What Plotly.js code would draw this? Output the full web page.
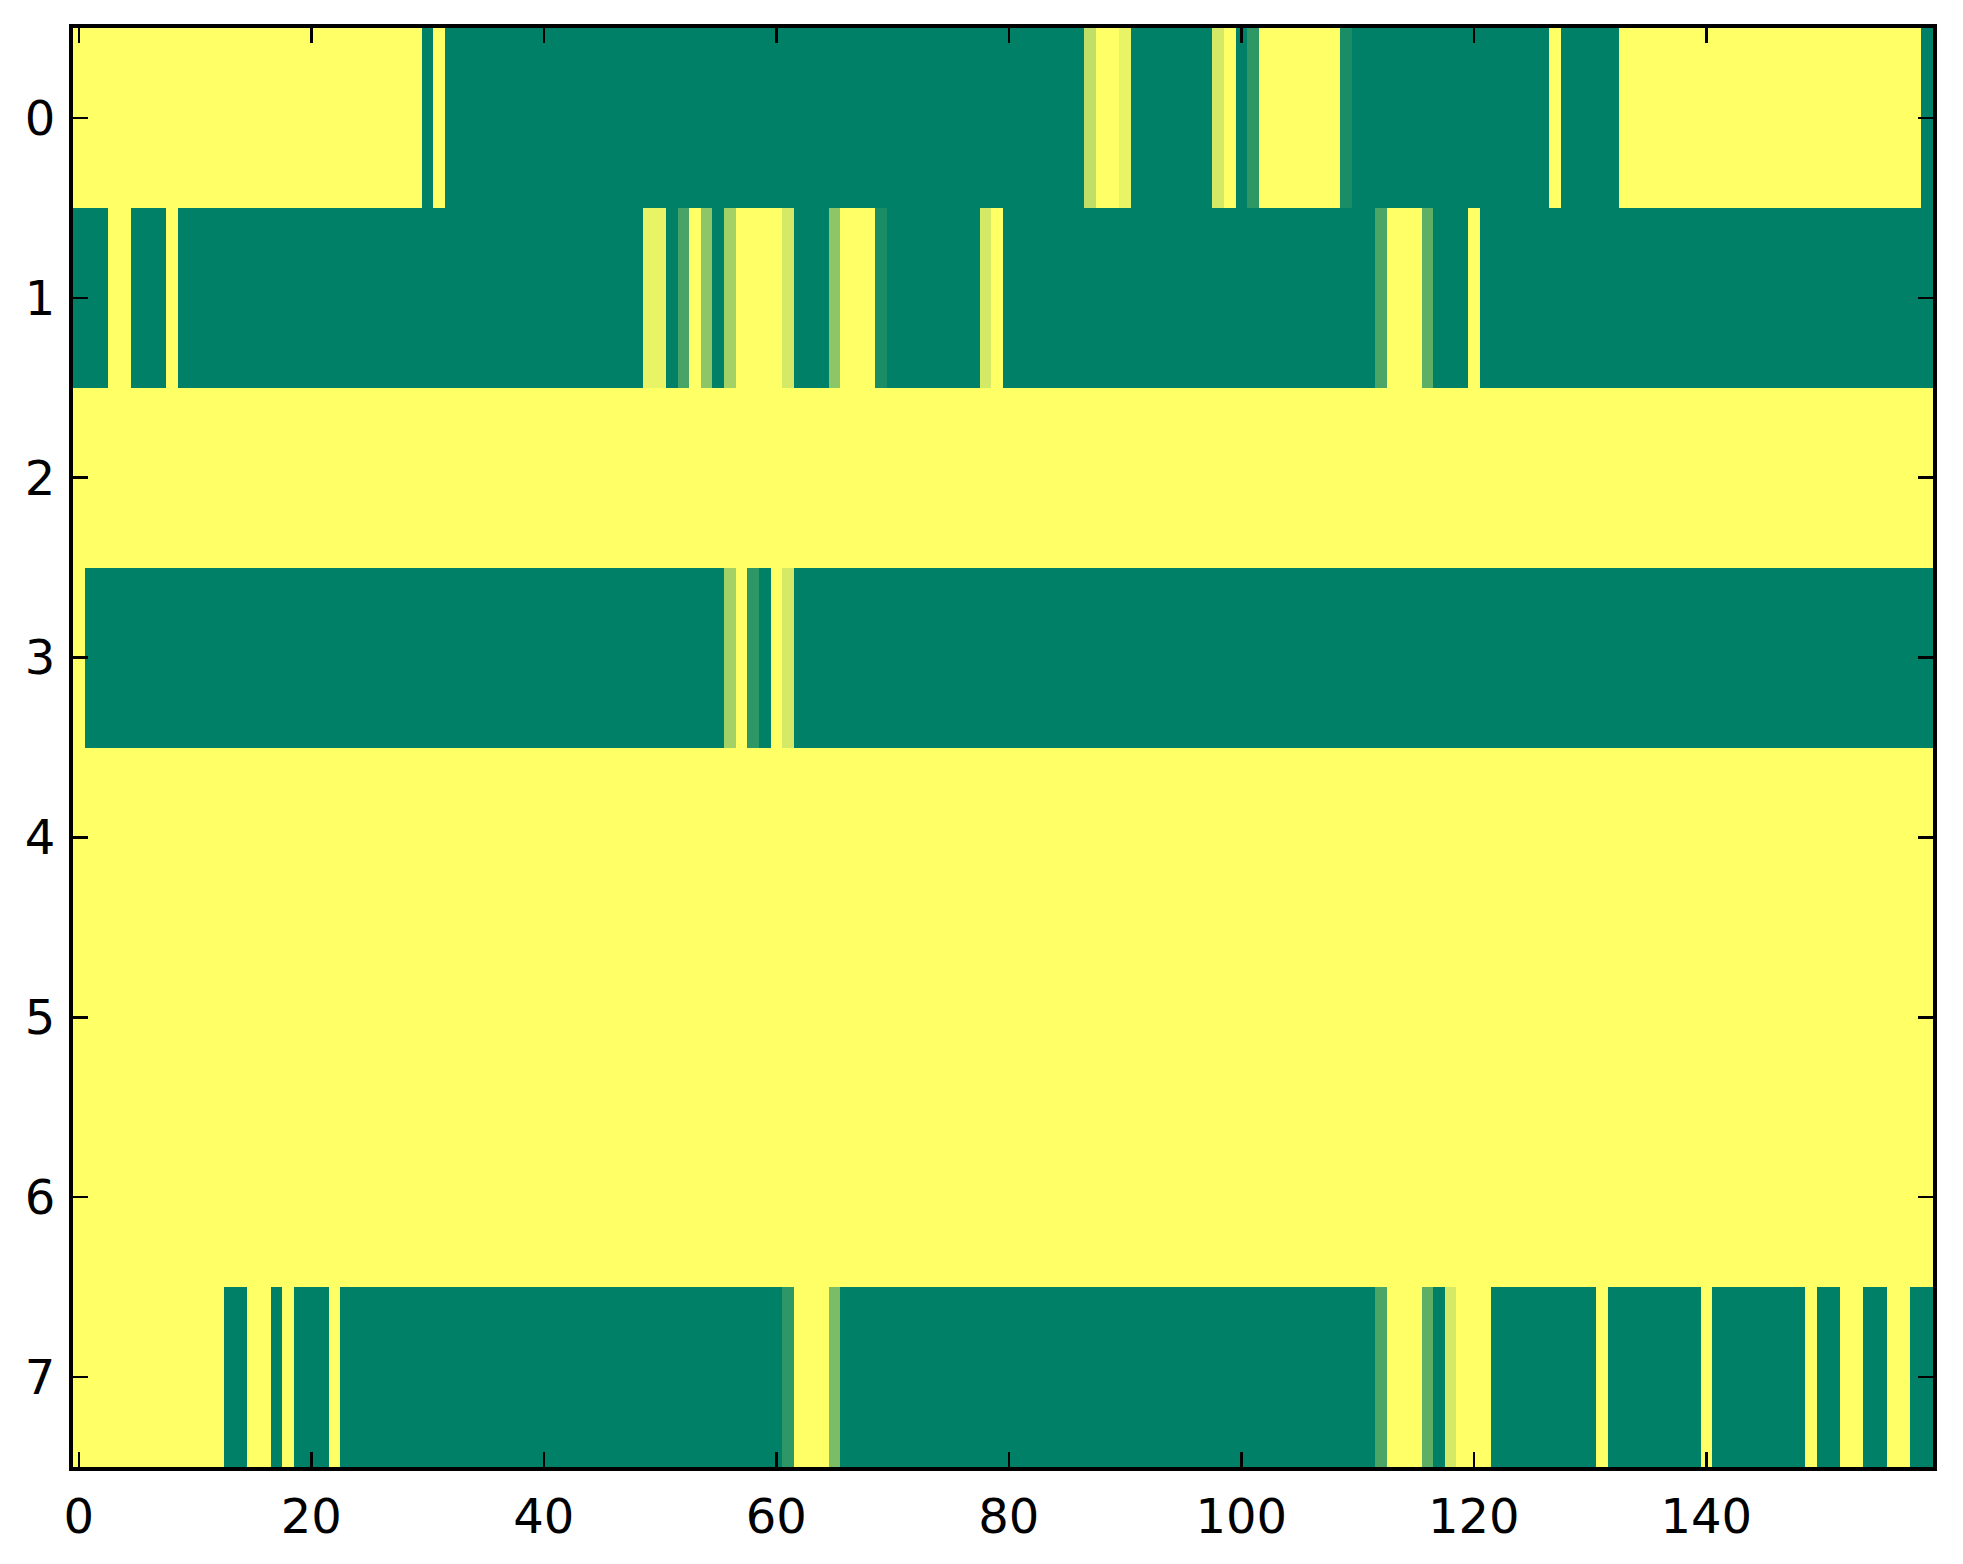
<!DOCTYPE html>
<html>
<head>
<meta charset="utf-8">
<script src="https://cdn.plot.ly/plotly-3.0.1.min.js"></script>
<style>html,body{margin:0;padding:0;background:#fff;}#plot{width:1963px;height:1564px;}</style>
</head>
<body>
<div id="plot"></div>
<script>
// Row values (8 rows x 160 columns)
const row0 = [
1,1,1,1,1,1,1,1,1,1,1,1,1,1,1,1,1,1,1,1,
1,1,1,1,1,1,1,1,1,1,0,1,0,0,0,0,0,0,0,0,
0,0,0,0,0,0,0,0,0,0,0,0,0,0,0,0,0,0,0,0,
0,0,0,0,0,0,0,0,0,0,0,0,0,0,0,0,0,0,0,0,
0,0,0,0,0,0,0,0.75,1,1,0.91,0,0,0,0,0,0,0,0.83,1,
0,0.18,1,1,1,1,1,1,1,0.1,0,0,0,0,0,0,0,0,0,0,
0,0,0,0,0,0,0,1,0,0,0,0,0,1,1,1,1,1,1,1,
1,1,1,1,1,1,1,1,1,1,1,1,1,1,1,1,1,1,1,0
];
const row1 = [
0,0,0,1,1,0,0,0,1,0,0,0,0,0,0,0,0,0,0,0,
0,0,0,0,0,0,0,0,0,0,0,0,0,0,0,0,0,0,0,0,
0,0,0,0,0,0,0,0,0,0.91,0.91,0,0.28,1,0.55,0,0.64,1,1,1,
1,0.83,0,0,0,0.55,1,1,1,0.1,0,0,0,0,0,0,0,0,0.83,1,
0,0,0,0,0,0,0,0,0,0,0,0,0,0,0,0,0,0,0,0,
0,0,0,0,0,0,0,0,0,0,0,0,0.29,1,1,1,0.37,0,0,0,
1,0,0,0,0,0,0,0,0,0,0,0,0,0,0,0,0,0,0,0,
0,0,0,0,0,0,0,0,0,0,0,0,0,0,0,0,0,0,0,0
];
const row2 = [
1,1,1,1,1,1,1,1,1,1,1,1,1,1,1,1,1,1,1,1,
1,1,1,1,1,1,1,1,1,1,1,1,1,1,1,1,1,1,1,1,
1,1,1,1,1,1,1,1,1,1,1,1,1,1,1,1,1,1,1,1,
1,1,1,1,1,1,1,1,1,1,1,1,1,1,1,1,1,1,1,1,
1,1,1,1,1,1,1,1,1,1,1,1,1,1,1,1,1,1,1,1,
1,1,1,1,1,1,1,1,1,1,1,1,1,1,1,1,1,1,1,1,
1,1,1,1,1,1,1,1,1,1,1,1,1,1,1,1,1,1,1,1,
1,1,1,1,1,1,1,1,1,1,1,1,1,1,1,1,1,1,1,1
];
const row3 = [
1,0,0,0,0,0,0,0,0,0,0,0,0,0,0,0,0,0,0,0,
0,0,0,0,0,0,0,0,0,0,0,0,0,0,0,0,0,0,0,0,
0,0,0,0,0,0,0,0,0,0,0,0,0,0,0,0,0.64,1,0.18,0,
1,0.83,0,0,0,0,0,0,0,0,0,0,0,0,0,0,0,0,0,0,
0,0,0,0,0,0,0,0,0,0,0,0,0,0,0,0,0,0,0,0,
0,0,0,0,0,0,0,0,0,0,0,0,0,0,0,0,0,0,0,0,
0,0,0,0,0,0,0,0,0,0,0,0,0,0,0,0,0,0,0,0,
0,0,0,0,0,0,0,0,0,0,0,0,0,0,0,0,0,0,0,0
];
const row4 = [
1,1,1,1,1,1,1,1,1,1,1,1,1,1,1,1,1,1,1,1,
1,1,1,1,1,1,1,1,1,1,1,1,1,1,1,1,1,1,1,1,
1,1,1,1,1,1,1,1,1,1,1,1,1,1,1,1,1,1,1,1,
1,1,1,1,1,1,1,1,1,1,1,1,1,1,1,1,1,1,1,1,
1,1,1,1,1,1,1,1,1,1,1,1,1,1,1,1,1,1,1,1,
1,1,1,1,1,1,1,1,1,1,1,1,1,1,1,1,1,1,1,1,
1,1,1,1,1,1,1,1,1,1,1,1,1,1,1,1,1,1,1,1,
1,1,1,1,1,1,1,1,1,1,1,1,1,1,1,1,1,1,1,1
];
const row5 = [
1,1,1,1,1,1,1,1,1,1,1,1,1,1,1,1,1,1,1,1,
1,1,1,1,1,1,1,1,1,1,1,1,1,1,1,1,1,1,1,1,
1,1,1,1,1,1,1,1,1,1,1,1,1,1,1,1,1,1,1,1,
1,1,1,1,1,1,1,1,1,1,1,1,1,1,1,1,1,1,1,1,
1,1,1,1,1,1,1,1,1,1,1,1,1,1,1,1,1,1,1,1,
1,1,1,1,1,1,1,1,1,1,1,1,1,1,1,1,1,1,1,1,
1,1,1,1,1,1,1,1,1,1,1,1,1,1,1,1,1,1,1,1,
1,1,1,1,1,1,1,1,1,1,1,1,1,1,1,1,1,1,1,1
];
const row6 = [
1,1,1,1,1,1,1,1,1,1,1,1,1,1,1,1,1,1,1,1,
1,1,1,1,1,1,1,1,1,1,1,1,1,1,1,1,1,1,1,1,
1,1,1,1,1,1,1,1,1,1,1,1,1,1,1,1,1,1,1,1,
1,1,1,1,1,1,1,1,1,1,1,1,1,1,1,1,1,1,1,1,
1,1,1,1,1,1,1,1,1,1,1,1,1,1,1,1,1,1,1,1,
1,1,1,1,1,1,1,1,1,1,1,1,1,1,1,1,1,1,1,1,
1,1,1,1,1,1,1,1,1,1,1,1,1,1,1,1,1,1,1,1,
1,1,1,1,1,1,1,1,1,1,1,1,1,1,1,1,1,1,1,1
];
const row7 = [
1,1,1,1,1,1,1,1,1,1,1,1,1,0,0,1,1,0,1,0,
0,0,1,0,0,0,0,0,0,0,0,0,0,0,0,0,0,0,0,0,
0,0,0,0,0,0,0,0,0,0,0,0,0,0,0,0,0,0,0,0,
0,0.18,1,1,1,0.48,0,0,0,0,0,0,0,0,0,0,0,0,0,0,
0,0,0,0,0,0,0,0,0,0,0,0,0,0,0,0,0,0,0,0,
0,0,0,0,0,0,0,0,0,0,0,0,0.29,1,1,1,0.37,0,0.83,1,
1,1,0,0,0,0,0,0,0,0,0,1,0,0,0,0,0,0,0,0,
1,0,0,0,0,0,0,0,0,1,0,0,1,1,0,0,1,1,0,0
];
const rowLabels = [0,1,2,3,4,5,6,7];
const xTickVals = [0,20,40,60,80,100,120,140];

const zData = [row0,row1,row2,row3,row4,row5,row6,row7];

const trace = {
  type: 'heatmap',
  z: zData,
  y: rowLabels,
  x0: 0, dx: 1,
  zmin: 0, zmax: 1,
  colorscale: [[0,'rgb(0,128,102)'],[1,'rgb(255,255,102)']],
  showscale: false,
  zsmooth: false,
  hoverinfo: 'skip'
};

const axisCommon = {
  showgrid: false,
  zeroline: false,
  showline: true,
  linecolor: '#000',
  linewidth: 4,
  mirror: 'allticks',
  ticks: 'inside',
  ticklen: 15,
  tickwidth: 2.5,
  tickcolor: '#000',
  tickfont: {family: 'DejaVu Sans', size: 48, color: '#000'}
};

const layout = {
  width: 1963, height: 1564,
  margin: {l: 73, r: 30, t: 28, b: 97, pad: 0},
  paper_bgcolor: '#fff',
  plot_bgcolor: '#fff',
  font: {family: 'DejaVu Sans', color: '#000'},
  xaxis: Object.assign({}, axisCommon, {
    range: [-0.5, 159.5],
    tickmode: 'array', tickvals: xTickVals, ticktext: xTickVals.map(String),
    ticklabelstandoff: 4
  }),
  yaxis: Object.assign({}, axisCommon, {
    range: [7.5, -0.5],
    tickmode: 'array', tickvals: rowLabels, ticktext: rowLabels.map(String),
    ticklabelstandoff: 4
  })
};

Plotly.newPlot('plot', [trace], layout, {staticPlot: true, displayModeBar: false});
</script>
</body>
</html>
